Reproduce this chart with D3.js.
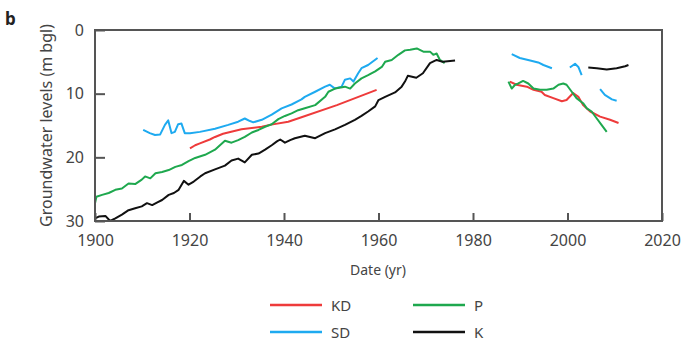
<!DOCTYPE html>
<html>
<head>
<meta charset="utf-8">
<script src="https://cdn.jsdelivr.net/npm/d3@7"></script>
<style>
  body { margin: 0; background: #fff; }
  svg { display: block; font-family: "Noto Sans", "Open Sans", sans-serif; }
</style>
</head>
<body>
<svg id="chart" width="692" height="346"></svg>
<script>
// groundwater level (m bgl) by year, null = gap in record
const kd = [
  [1920.1, 18.6], [1921.2, 18.1], [1922.2, 17.8], [1924.3, 17.2], [1925.4, 16.8],
  [1927.1, 16.3], [1931, 15.6], [1935.3, 15.2], [1937, 14.9], [1940.9, 14.4],
  [1943.7, 13.7], [1951.2, 11.8], [1959.6, 9.4],
  null,
  [1987.8, 8.1], [1989.2, 8.6], [1991.4, 8.9], [1992.8, 9.4], [1994.5, 9.7],
  [1995.2, 10.2], [1997, 10.7], [1998.8, 11.2], [1999.8, 11.0], [2001.2, 9.9],
  [2002.3, 10.5], [2003.3, 11.8], [2004.8, 12.8], [2006.9, 13.6], [2009, 14.1],
  [2010.8, 14.6]
]

const sd = [
  [1910.2, 15.7], [1911.6, 16.2], [1912.7, 16.5], [1913.8, 16.4], [1914.8, 14.9],
  [1915.5, 14.2], [1916.2, 16.2], [1916.9, 16.0], [1917.6, 14.8], [1918.3, 14.7],
  [1919, 16.2], [1920.1, 16.2], [1922.2, 16.0], [1925.4, 15.5], [1928.2, 14.9],
  [1930.3, 14.4], [1931.7, 13.9], [1932.8, 14.3], [1933.5, 14.5], [1935.3, 14.1],
  [1937.4, 13.3], [1939.5, 12.3], [1941.6, 11.7], [1943.7, 10.9], [1944.4, 10.5],
  [1946.6, 9.7], [1948.7, 8.9], [1949.7, 8.6], [1950.8, 9.2], [1952.2, 8.9],
  [1952.9, 7.8], [1954, 7.6], [1954.7, 8.1], [1955.7, 6.8], [1956.4, 6.0],
  [1957.8, 5.5], [1959.8, 4.4],
  null,
  [1988.2, 3.8], [1989.9, 4.4], [1992.1, 4.8], [1993.8, 5.1], [1994.9, 5.5], [1996.7, 6.0],
  null,
  [2000.5, 5.9], [2001.6, 5.3], [2002.3, 5.8], [2003, 7.1],
  null,
  [2006.9, 9.3], [2007.9, 10.2], [2009.4, 10.9], [2010.4, 11.1]
]

const p = [
  [1900, 27.2], [1900.3, 26.2], [1901.5, 25.9], [1902.9, 25.6], [1904.3, 25.1],
  [1905.7, 24.9], [1907.1, 24.1], [1908.5, 24.2], [1909.9, 23.5], [1910.6, 23.0],
  [1911.7, 23.3], [1912.8, 22.5], [1914.2, 22.3], [1915.6, 22.0], [1917, 21.5],
  [1918.4, 21.2], [1919.8, 20.6], [1921.2, 20.1], [1923.3, 19.6], [1925.4, 18.8],
  [1927.5, 17.4], [1928.9, 17.7], [1930.3, 17.3], [1931.7, 16.8], [1933.2, 16.1],
  [1934.6, 15.7], [1936, 15.2], [1937.4, 14.8], [1938.8, 14.0], [1940.2, 13.5],
  [1941.6, 13.1], [1943, 12.6], [1944.4, 12.3], [1946.6, 11.8], [1948.7, 10.5],
  [1949.4, 9.7], [1950.8, 9.2], [1952.9, 8.9], [1954, 9.2], [1955, 8.4],
  [1956.4, 7.6], [1957.8, 7.1], [1959.3, 6.5], [1960.7, 5.8], [1961.4, 5.0],
  [1962.8, 4.7], [1964.2, 3.9], [1965.6, 3.2], [1966.7, 3.1], [1968.1, 2.9],
  [1969.5, 3.4], [1970.9, 3.4], [1971.6, 3.9], [1972.3, 3.7], [1973, 4.7], [1974, 5.2],
  null,
  [1987.5, 8.1], [1988.2, 9.2], [1988.9, 8.6], [1989.6, 8.4], [1990.6, 8.0],
  [1991.7, 8.4], [1992.8, 9.2], [1994.2, 9.4], [1995.6, 9.4], [1997, 9.2],
  [1998.1, 8.6], [1999.1, 8.4], [1999.8, 8.6], [2000.9, 9.7], [2001.9, 10.7],
  [2003.3, 11.5], [2004.1, 12.3], [2005.1, 12.8], [2006.2, 13.9], [2007.2, 14.9],
  [2008.3, 16.0]
]

const k = [
  [1900, 29.6], [1900.8, 29.3], [1902.2, 29.2], [1903.2, 30.0], [1904.3, 29.6],
  [1905.7, 29.0], [1907.1, 28.3], [1908.5, 28.0], [1909.9, 27.7], [1911, 27.2],
  [1912.1, 27.5], [1913.1, 27.1], [1914.2, 26.7], [1915.6, 25.9], [1916.7, 25.6],
  [1917.7, 25.1], [1918.8, 23.7], [1919.8, 24.3], [1920.9, 23.8], [1922.3, 23.0],
  [1923.3, 22.5], [1925.4, 21.9], [1927.5, 21.3], [1928.9, 20.5], [1930.3, 20.2],
  [1931.7, 20.8], [1933.2, 19.6], [1934.6, 19.4], [1936, 18.8], [1937.4, 18.1],
  [1938.5, 17.5], [1939.2, 17.2], [1940.2, 17.7], [1941.3, 17.3], [1942.3, 17.0],
  [1944.4, 16.6], [1946.6, 17.0], [1948.7, 16.2], [1950.8, 15.6], [1952.9, 14.9],
  [1955, 14.1], [1956.4, 13.5], [1957.8, 12.8], [1959.3, 12.0], [1960, 11.0],
  [1961.4, 10.5], [1963.5, 9.8], [1964.9, 8.9], [1965.6, 8.1], [1966.2, 7.2],
  [1968, 7.5], [1969.4, 6.8], [1970.9, 5.2], [1972.3, 4.7], [1973.6, 5.0], [1976.2, 4.8],
  null,
  [2004.4, 5.9], [2006.2, 6.0], [2008.3, 6.2], [2010.4, 6.0], [2012.2, 5.7], [2012.9, 5.5]
]

const series = [
  { name: 'KD', data: kd, color: '#ee3b3b' },
  { name: 'SD', data: sd, color: '#1eaaf0' },
  { name: 'P', data: p, color: '#1ea84e' },
  { name: 'K', data: k, color: '#111111' }
]

const xTicks = [1900, 1920, 1940, 1960, 1980, 2000, 2020]
const yTicks = [0, 10, 20, 30]

const svg = d3.select('#chart')
const plotLeft = 95, plotRight = 662, plotTop = 30, plotBottom = 221

const x = d3.scaleLinear().domain([1900, 2020]).range([plotLeft, plotRight])
const y = d3.scaleLinear().domain([0, 30]).range([plotTop, plotBottom])

// data lines (drawn under the frame)
const line = d3.line()
  .defined(d => d !== null)
  .x(d => x(d[0]))
  .y(d => y(d[1]))

series.forEach(s => {
  svg.append('path')
    .datum(s.data)
    .attr('d', line)
    .style('fill', 'none')
    .style('stroke', s.color)
    .style('stroke-width', 2)
    .style('stroke-linejoin', 'round')
})

// frame
svg.append('rect')
  .attr('x', plotLeft).attr('y', plotTop)
  .attr('width', plotRight - plotLeft).attr('height', plotBottom - plotTop)
  .style('fill', 'none')
  .style('stroke', '#555')
  .style('stroke-width', 2)

// axes with inward ticks
const xAxis = svg.append('g')
  .attr('transform', `translate(0,${plotBottom})`)
  .call(d3.axisBottom(x).tickValues(xTicks).tickFormat(d3.format('d')).tickSizeInner(-8).tickSizeOuter(0).tickPadding(14))
const yAxis = svg.append('g')
  .attr('transform', `translate(${plotLeft},0)`)
  .call(d3.axisLeft(y).tickValues(yTicks).tickSizeInner(-10).tickSizeOuter(0).tickPadding(11))

;[xAxis, yAxis].forEach(a => {
  a.select('.domain').remove()
  a.selectAll('line').style('stroke', '#555').style('stroke-width', 2)
  a.selectAll('text')
    .style('font-size', '16px')
    .style('fill', '#444')
    .style('font-family', '"Noto Sans", sans-serif')
})

// titles
svg.append('text')
  .attr('x', 378).attr('y', 275)
  .attr('text-anchor', 'middle')
  .style('font-size', '14px')
  .style('fill', '#444')
  .text('Date (yr)')

svg.append('text')
  .attr('transform', `translate(52,${(plotTop + plotBottom) / 2}) rotate(-90)`)
  .attr('text-anchor', 'middle')
  .style('font-size', '16px')
  .style('fill', '#444')
  .text('Groundwater levels (m bgl)')

svg.append('text')
  .attr('x', 5).attr('y', 25)
  .style('font-size', '17px')
  .style('font-weight', 'bold')
  .style('fill', '#222')
  .text('b')

// legend
const legendPos = [
  { name: 'KD', x: 270, y: 305 },
  { name: 'P', x: 413, y: 305 },
  { name: 'SD', x: 270, y: 332 },
  { name: 'K', x: 413, y: 332 }
]
legendPos.forEach(l => {
  const s = series.find(d => d.name === l.name)
  svg.append('line')
    .attr('x1', l.x).attr('x2', l.x + 52)
    .attr('y1', l.y).attr('y2', l.y)
    .style('stroke', s.color)
    .style('stroke-width', 2.5)
  svg.append('text')
    .attr('x', l.x + 61).attr('y', l.y)
    .attr('dominant-baseline', 'central')
    .style('font-size', '15px')
    .style('fill', '#444')
    .text(l.name)
})
</script>
</body>
</html>
